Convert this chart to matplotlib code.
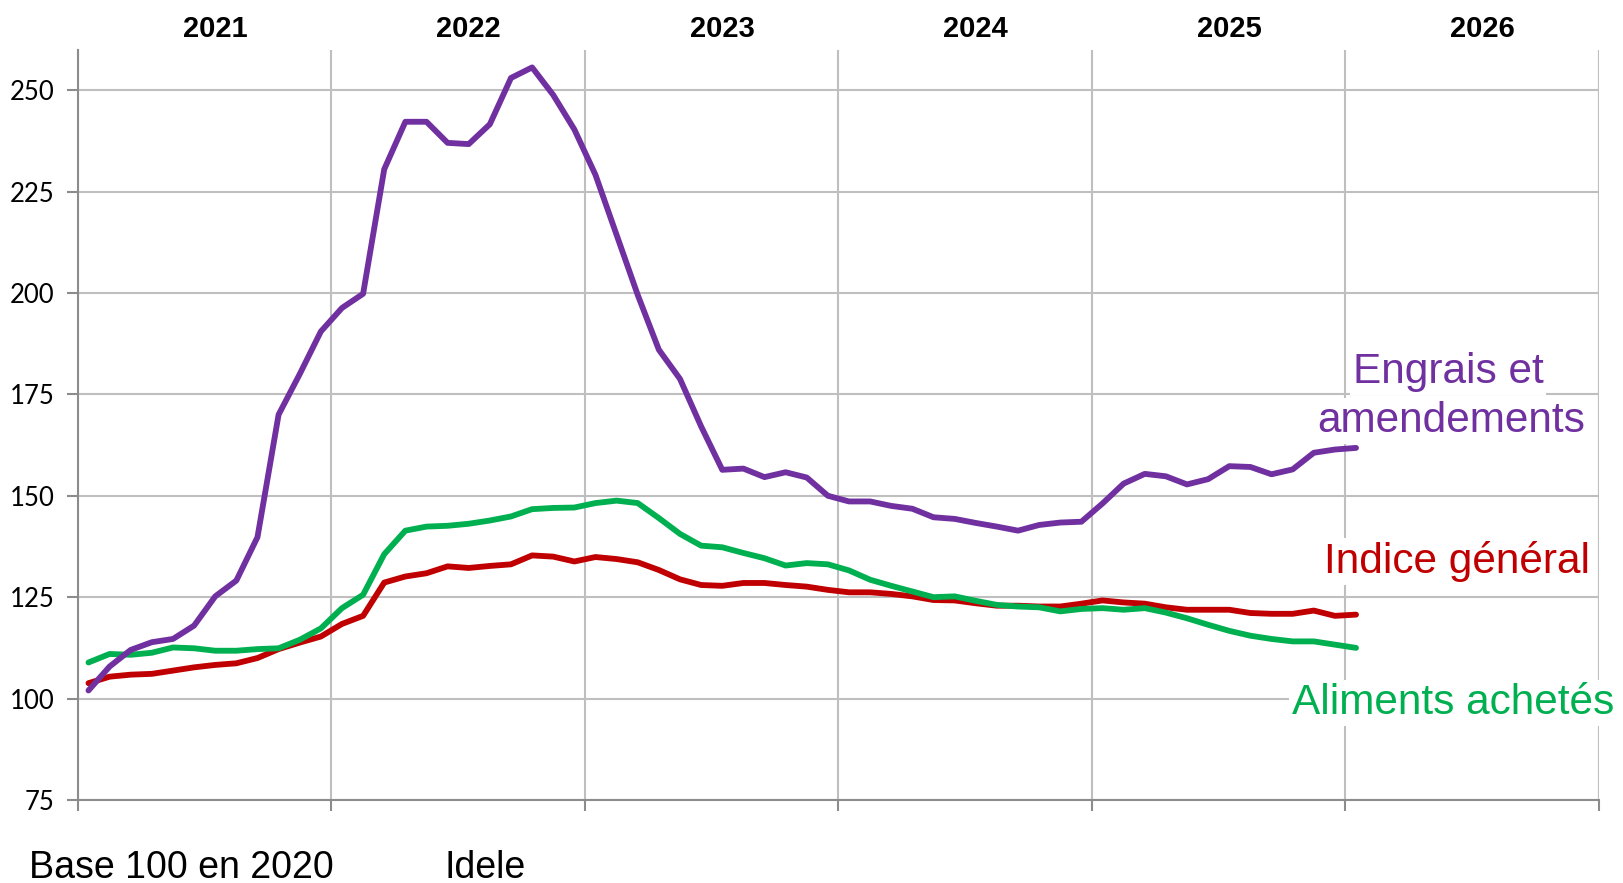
import matplotlib
matplotlib.use("Agg")
import matplotlib.pyplot as plt
import numpy as np

# monthly index values, Jan 2021 -> Jan 2026 (base 100 in 2020)
engrais = [102.0, 107.9, 112.0, 113.9, 114.7, 118.0, 125.2, 129.1, 139.8, 170.0,
           180.0, 190.5, 196.3, 199.8, 230.5, 242.2, 242.2, 237.0, 236.7, 241.6,
           253.0, 255.6, 248.8, 240.3, 229.1, 214.3, 199.5, 186.0, 178.8, 167.1,
           156.4, 156.7, 154.6, 155.8, 154.5, 150.0, 148.6, 148.6, 147.5, 146.8,
           144.7, 144.3, 143.3, 142.4, 141.4, 142.8, 143.4, 143.6, 148.1, 153.0,
           155.4, 154.8, 152.8, 154.1, 157.3, 157.1, 155.3, 156.5, 160.6, 161.4,
           161.8]
indice = [103.8, 105.4, 105.9, 106.1, 106.9, 107.7, 108.3, 108.7, 110.0, 112.2,
          113.8, 115.3, 118.4, 120.4, 128.6, 130.1, 130.9, 132.6, 132.2, 132.7,
          133.1, 135.3, 135.0, 133.8, 134.9, 134.4, 133.6, 131.7, 129.4, 128.0,
          127.8, 128.5, 128.5, 128.0, 127.6, 126.8, 126.2, 126.2, 125.8, 125.2,
          124.3, 124.2, 123.5, 122.9, 122.9, 122.7, 122.7, 123.4, 124.2, 123.7,
          123.4, 122.5, 121.9, 121.9, 121.9, 121.1, 120.9, 120.9, 121.7, 120.4,
          120.7]
aliments = [108.9, 111.0, 110.8, 111.3, 112.6, 112.4, 111.8, 111.8, 112.2, 112.4,
            114.5, 117.3, 122.3, 125.6, 135.6, 141.4, 142.4, 142.6, 143.1, 143.9,
            144.9, 146.7, 147.0, 147.1, 148.2, 148.8, 148.2, 144.5, 140.6, 137.7,
            137.3, 135.9, 134.6, 132.8, 133.4, 133.1, 131.6, 129.3, 127.8, 126.4,
            125.0, 125.2, 124.1, 123.1, 122.7, 122.5, 121.5, 122.1, 122.3, 121.9,
            122.3, 121.2, 119.8, 118.2, 116.7, 115.5, 114.7, 114.1, 114.1, 113.3,
            112.5]
years = ["2021", "2022", "2023", "2024", "2025", "2026"]
y_ticks = [75, 100, 125, 150, 175, 200, 225, 250]

PURPLE = "#7030A0"
RED = "#C00000"
GREEN = "#00B050"
GRID = "#BFBFBF"
AXIS = "#8C8C8C"

plt.rcParams["font.family"] = ["Liberation Sans", "DejaVu Sans"]

fig = plt.figure(figsize=(16.23, 8.83), dpi=100)
ax = fig.add_axes([0.048, 0.094, 0.9372, 0.8494])

months = np.arange(len(engrais)) + 0.5
ax.plot(months, indice, color=RED, lw=4.2, solid_capstyle="round", zorder=3)
ax.plot(months, aliments, color=GREEN, lw=4.2, solid_capstyle="round", zorder=4)
ax.plot(months, engrais, color=PURPLE, lw=4.2, solid_capstyle="round", zorder=5)

ax.set_xlim(0, 72)
ax.set_ylim(75, 259.9)

ax.set_yticks(y_ticks)
ax.set_xticks(np.arange(0, 73, 12))
ax.set_xticklabels([])
for lbl in ax.get_yticklabels():
    lbl.set_family("Lato")
ax.tick_params(axis="y", direction="out", length=8, width=1.5, color=AXIS,
               labelsize=18.5, pad=9)
ax.tick_params(axis="x", direction="out", length=8, width=1.5, color=AXIS)

ax.grid(True, color=GRID, lw=1.5, zorder=0)
ax.axvline(72, color=GRID, lw=1.5, zorder=0)
for side in ["top", "right"]:
    ax.spines[side].set_visible(False)
for side in ["left", "bottom"]:
    ax.spines[side].set_color(AXIS)
    ax.spines[side].set_linewidth(1.5)

# year labels above the plot
for k, yr in enumerate(years):
    ax.text(6.5 + 12 * k, 1.017, yr, transform=ax.get_xaxis_transform(),
            ha="center", va="baseline", fontsize=21, fontweight="bold")

box = dict(facecolor="white", edgecolor="none", pad=2)
ax.text(64.85, 177.9, "Engrais et", color=PURPLE, fontsize=30.5,
        ha="center", va="baseline", bbox=box, zorder=6)
ax.text(65.0, 165.8, "amendements", color=PURPLE, fontsize=30.5,
        ha="center", va="baseline", bbox=box, zorder=6)
ax.text(65.3, 130.9, "Indice général", color=RED, fontsize=30.5,
        ha="center", va="baseline", bbox=box, zorder=6)
ax.text(65.1, 96.1, "Aliments achetés", color=GREEN, fontsize=30.5,
        ha="center", va="baseline", bbox=box, zorder=6)

fig.text(29 / 1623, 1 - 878 / 883, "Base 100 en 2020", fontsize=27,
         ha="left", va="baseline")
fig.text(445 / 1623, 1 - 878 / 883, "Idele", fontsize=27,
         ha="left", va="baseline")

fig.savefig("out.png", dpi=100)
